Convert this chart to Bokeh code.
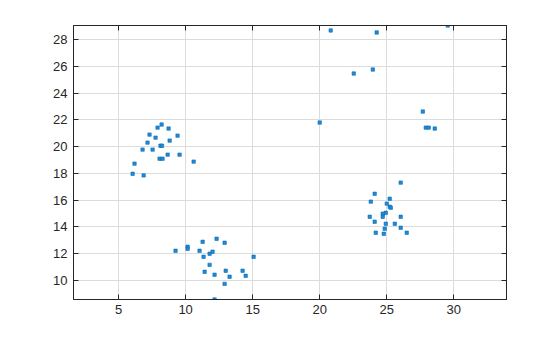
from bokeh.plotting import figure
from bokeh.models import Range1d, LinearAxis, FixedTicker, ColumnDataSource
from bokeh.embed import file_html
from bokeh.resources import INLINE

x = [6.05, 6.19, 6.87, 6.79, 7.16, 7.31, 7.54, 7.76, 7.91, 8.21, 8.13, 8.24, 8.06, 8.28,
     8.66, 8.73, 8.81, 9.40, 9.55, 10.6, 20.0,
     20.82, 24.25, 29.55, 22.54, 23.96, 27.69, 27.91, 28.13, 28.58,
     9.25, 10.15, 10.15, 11.04, 11.27, 11.34, 11.42, 11.79, 11.79, 12.01, 12.16, 12.16,
     12.31, 12.91, 12.99, 12.91, 13.28, 14.25, 14.48, 15.07,
     26.04, 24.1, 25.22, 23.81, 25.0, 25.22, 25.3, 24.93, 24.7, 24.7, 23.73, 26.04,
     24.1, 24.93, 25.6, 26.04, 24.85, 24.18, 24.78, 26.49]
y = [17.97, 18.73, 17.85, 19.78, 20.3, 20.9, 19.78, 20.67, 21.42, 21.65, 20.07, 20.07, 19.1, 19.1,
     19.4, 21.35, 20.45, 20.82, 19.4, 18.88, 21.8,
     28.68, 28.53, 29.05, 25.46, 25.76, 22.62, 21.42, 21.42, 21.35,
     12.22, 12.52, 12.37, 12.22, 12.89, 11.77, 10.65, 12.0, 11.17, 12.15, 10.43, 8.58,
     13.12, 12.82, 10.73, 9.75, 10.28, 10.73, 10.35, 11.77,
     17.31, 16.48, 16.11, 15.89, 15.74, 15.51, 15.44, 15.06, 14.99, 14.76, 14.76, 14.76,
     14.39, 14.24, 14.24, 13.94, 13.87, 13.57, 13.49, 13.57]
x_ticks = [5, 10, 15, 20, 25, 30]
y_ticks = [10, 12, 14, 16, 18, 20, 22, 24, 26, 28]

src = ColumnDataSource(dict(x=x, y=y))

p = figure(width=560, height=337, output_backend="svg", toolbar_location=None,
           x_range=Range1d(1.64, 33.93), y_range=Range1d(8.58, 29.05),
           min_border_left=73, min_border_right=54, min_border_top=25, min_border_bottom=38)
p.background_fill_color = "white"
p.border_fill_color = "white"
p.outline_line_color = "#262626"
p.outline_line_width = 1

p.scatter("x", "y", source=src, marker="square", size=3.4,
          fill_color="#2a86d0", line_color="#0072BD", line_width=0.6)

for ax in (p.xaxis[0], p.yaxis[0]):
    ax.major_tick_in = 5
    ax.major_tick_out = 0
    ax.minor_tick_in = 0
    ax.minor_tick_out = 0
    ax.axis_line_color = "#262626"
    ax.major_tick_line_color = "#262626"
    ax.major_label_text_color = "#262626"
    ax.major_label_text_font = "Liberation Sans"
    ax.major_label_text_font_size = "13px"
p.xaxis[0].ticker = FixedTicker(ticks=x_ticks)
p.yaxis[0].ticker = FixedTicker(ticks=y_ticks)
p.xaxis[0].major_label_standoff = 5
p.yaxis[0].major_label_standoff = 6

top = LinearAxis(ticker=FixedTicker(ticks=x_ticks))
right = LinearAxis(ticker=FixedTicker(ticks=y_ticks))
for ax in (top, right):
    ax.major_tick_in = 5
    ax.major_tick_out = 0
    ax.minor_tick_in = 0
    ax.minor_tick_out = 0
    ax.axis_line_color = "#262626"
    ax.major_tick_line_color = "#262626"
    ax.major_label_text_font_size = "0px"
    ax.major_label_text_alpha = 0
p.add_layout(top, "above")
p.add_layout(right, "right")

p.xgrid.ticker = FixedTicker(ticks=x_ticks)
p.ygrid.ticker = FixedTicker(ticks=y_ticks)
p.xgrid.grid_line_color = "#dcdcdc"
p.ygrid.grid_line_color = "#dcdcdc"
p.xgrid.grid_line_width = 1
p.ygrid.grid_line_width = 1

open("out.html", "w").write(file_html(p, INLINE))
